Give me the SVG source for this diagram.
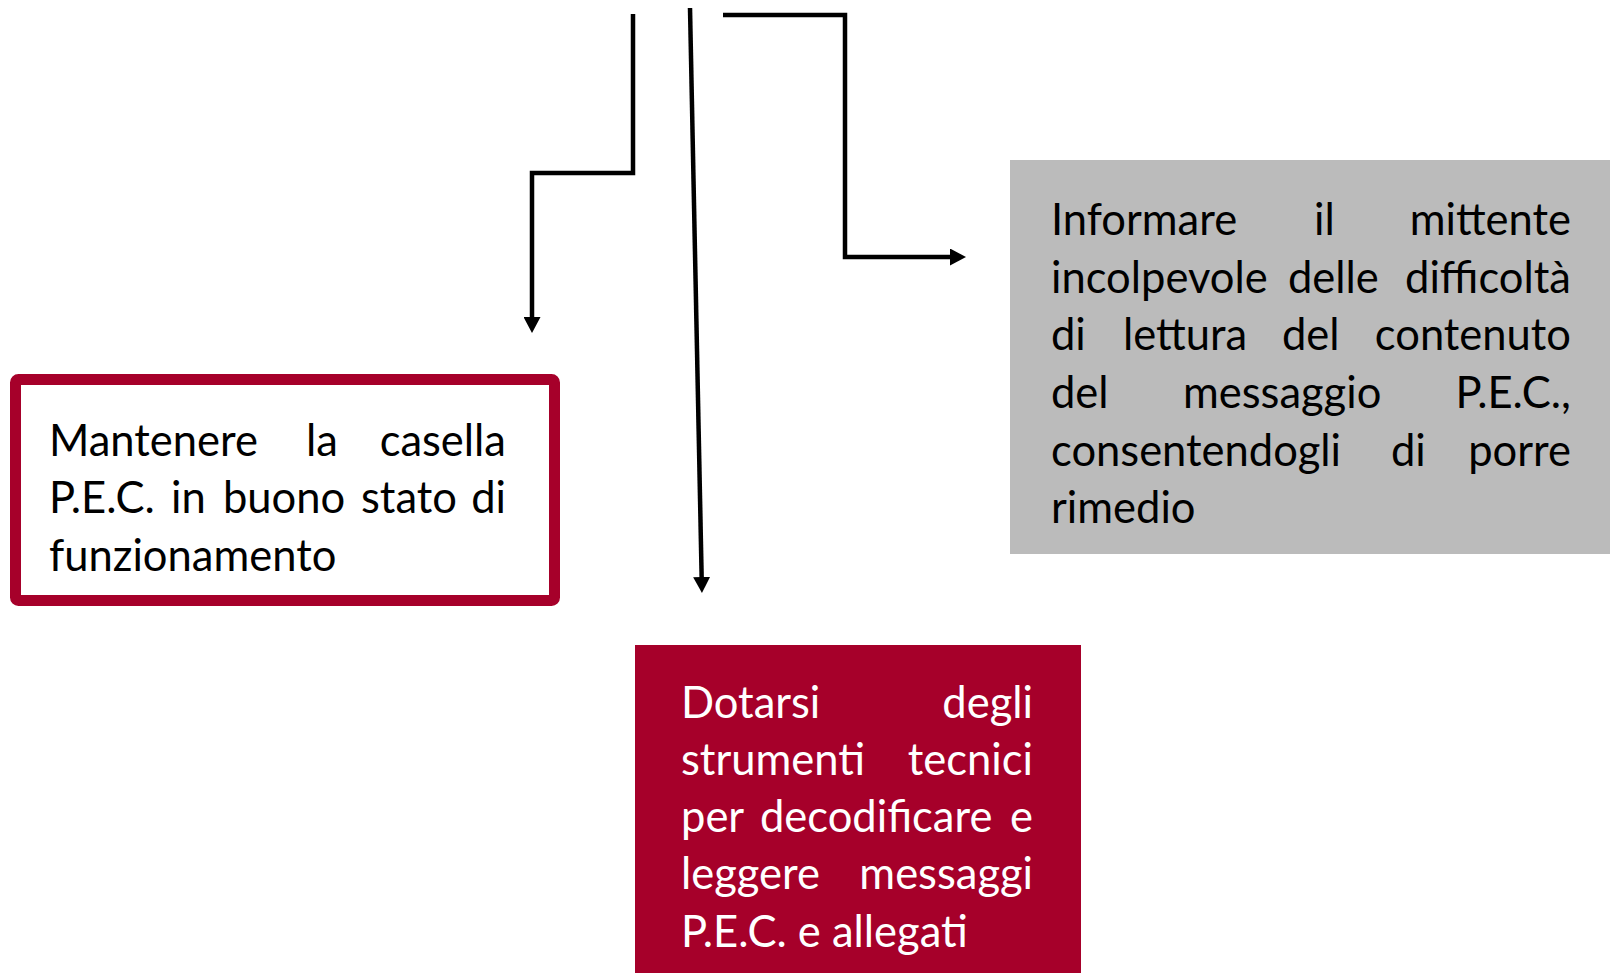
<svg xmlns="http://www.w3.org/2000/svg" width="1610" height="973" viewBox="0 0 1610 973">
<style>
.t{font-family:Lato,"Open Sans","Liberation Sans",sans-serif;font-size:43.5px}
.k{fill:#000}
.w{fill:#fff}
.e{text-anchor:end}
.c{fill:none;stroke:#000;stroke-width:4.5;stroke-linejoin:miter}
</style>
<defs>
<marker id="ah" markerUnits="userSpaceOnUse" markerWidth="16" markerHeight="17" refX="3" refY="8.5" orient="auto">
<path d="M0,0 L16,8.5 L0,17 z" fill="#000"/>
</marker>
</defs>
<rect width="1610" height="973" fill="#fff"/>
<g id="connectors">
<path class="c" d="M633,14 V173 H532 V320" marker-end="url(#ah)"/>
<path class="c" d="M690,8 L701.7,580" marker-end="url(#ah)"/>
<path class="c" d="M723,15 H845 V257 H953" marker-end="url(#ah)"/>
</g>
<g id="node-mantenere">
<rect x="15.5" y="379.5" width="539" height="221" rx="3" fill="#fff" stroke="#A6002A" stroke-width="11"/>
<text class="t k" y="456"><tspan x="49">Mantenere</tspan><tspan x="306">la</tspan><tspan x="506" class="e">casella</tspan></text>
<text class="t k" y="513"><tspan x="49">P.E.C.</tspan><tspan x="171">in</tspan><tspan x="223">buono</tspan><tspan x="361">stato</tspan></text>
<text class="t k e" x="506" y="513">di</text>
<text class="t k" x="49" y="571">funzionamento</text>
</g>
<g id="node-informare">
<rect x="1010" y="160" width="600" height="394" fill="#BBBBBB"/>
<text class="t k" y="235"><tspan x="1051">Informare</tspan><tspan x="1314">il</tspan></text>
<text class="t k e" x="1571" y="235">mittente</text>
<text class="t k" y="293"><tspan x="1051">incolpevole</tspan><tspan x="1288">delle</tspan></text>
<text class="t k e" x="1571" y="293">difficoltà</text>
<text class="t k" y="350"><tspan x="1051">di</tspan><tspan x="1123">lettura</tspan><tspan x="1282">del</tspan></text>
<text class="t k e" x="1571" y="350">contenuto</text>
<text class="t k" y="408"><tspan x="1051">del</tspan><tspan x="1183">messaggio</tspan></text>
<text class="t k e" x="1571" y="408">P.E.C.,</text>
<text class="t k" y="466"><tspan x="1051">consentendogli</tspan><tspan x="1391">di</tspan></text>
<text class="t k e" x="1571" y="466">porre</text>
<text class="t k" x="1051" y="523">rimedio</text>
</g>
<g id="node-dotarsi">
<rect x="635" y="645" width="446" height="328" fill="#A6002A"/>
<text class="t w" x="681" y="718">Dotarsi</text>
<text class="t w e" x="1033" y="718">degli</text>
<text class="t w" x="681" y="775">strumenti</text>
<text class="t w e" x="1033" y="775">tecnici</text>
<text class="t w" y="832"><tspan x="681">per</tspan><tspan x="760">decodificare</tspan></text>
<text class="t w e" x="1033" y="832">e</text>
<text class="t w" x="681" y="889">leggere</text>
<text class="t w e" x="1033" y="889">messaggi</text>
<text class="t w" x="681" y="947">P.E.C. e allegati</text>
</g>
</svg>
